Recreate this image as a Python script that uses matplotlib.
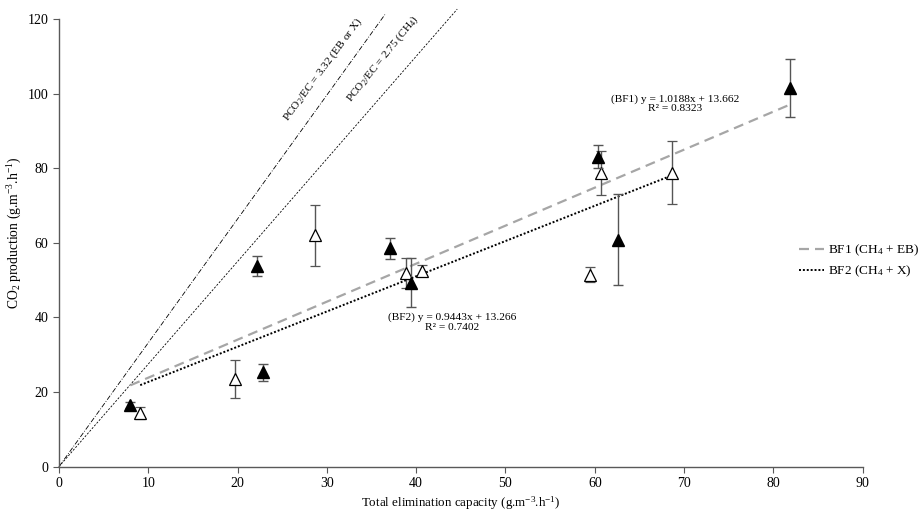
import matplotlib
matplotlib.use("Agg")
import matplotlib.pyplot as plt
import numpy as np

plt.rcParams['font.family'] = ['Liberation Serif', 'DejaVu Serif']
plt.rcParams['mathtext.fontset'] = 'custom'
plt.rcParams['mathtext.rm'] = 'Liberation Serif'
plt.rcParams['mathtext.it'] = 'Liberation Serif:italic'

# BF1 (CH4 + EB) - filled triangles
bf1_x = [8.0, 22.2, 22.8, 37.1, 39.4, 60.4, 62.6, 81.9]
bf1_y = [16.6, 53.8, 25.3, 58.5, 49.3, 83.1, 60.8, 101.4]
bf1_err = [0.8, 2.8, 2.3, 2.8, 6.5, 3.0, 12.2, 7.8]

# BF2 (CH4 + X) - open triangles
bf2_x = [9.1, 19.7, 28.7, 38.9, 40.7, 59.5, 60.7, 68.6]
bf2_y = [14.4, 23.5, 62.0, 52.0, 52.5, 51.4, 78.7, 78.8]
bf2_err = [1.6, 5.2, 8.2, 4.0, 1.5, 2.0, 6.0, 8.4]

# regression coefficients
bf1_slope, bf1_int = 1.0188, 13.662
bf2_slope, bf2_int = 0.9443, 13.266

# theoretical ratios
ratio_ebx = 3.32
ratio_ch4 = 2.75

fig = plt.figure(figsize=(9.21, 5.13), dpi=100)
ax = fig.add_axes([0.064, 0.0903, 0.8727, 0.8727])

ax.set_xlim(0, 90)
ax.set_ylim(0, 120)

# theoretical lines
xe1 = np.array([0, 36.5])
ax.plot(xe1, ratio_ebx * xe1, color='black', lw=0.6, ls='-.', dashes=(6, 2, 1, 2), clip_on=False)
xe2 = np.array([0, 44.6])
ax.plot(xe2, ratio_ch4 * xe2, color='black', lw=0.6, ls=(0, (2.5, 1.8)), clip_on=False)

# regression lines
x1 = np.array([min(bf1_x), max(bf1_x)])
ax.plot(x1, bf1_slope * x1 + bf1_int, color='#a6a6a6', lw=1.6, ls=(0, (4.5, 2.7)),
        label='BF1 (CH$_4$ + EB)')
x2 = np.array([min(bf2_x), max(bf2_x)])
ax.plot(x2, bf2_slope * x2 + bf2_int, color='black', lw=1.4, ls=(0, (1, 1)),
        label='BF2 (CH$_4$ + X)')

# data points
ax.errorbar(bf2_x, bf2_y, yerr=bf2_err, fmt='^', mfc='white', mec='black', mew=0.9,
            ms=9, ecolor='#555555', elinewidth=1.0, capsize=3.5, capthick=1.0, zorder=4)
ax.errorbar(bf1_x, bf1_y, yerr=bf1_err, fmt='^', mfc='black', mec='black',
            ms=9, ecolor='#555555', elinewidth=1.0, capsize=3.5, capthick=1.0, zorder=5)

# annotations
ax.text(69.0, 97.3, '(BF1) y = 1.0188x + 13.662\nR² = 0.8323', ha='center', va='center',
        fontsize=8.2, linespacing=1.1)
ax.text(44.0, 38.8, '(BF2) y = 0.9443x + 13.266\nR² = 0.7402', ha='center', va='center',
        fontsize=8.2, linespacing=1.1)
ax.text(29.6, 106.6, 'PCO$_2$/EC = 3.32 (EB or X)', rotation=53.5, ha='center', va='center',
        fontsize=8.2, rotation_mode='anchor')
ax.text(36.3, 109.3, 'PCO$_2$/EC = 2.75 (CH$_4$)', rotation=51, ha='center', va='center',
        fontsize=8.2, rotation_mode='anchor')

for s in ['top', 'right']:
    ax.spines[s].set_visible(False)
for s in ['left', 'bottom']:
    ax.spines[s].set_color('#595959')
    ax.spines[s].set_linewidth(1.0)
ax.tick_params(direction='out', length=4, color='#595959', labelsize=10)
ax.set_xticks(np.arange(0, 91, 10))
ax.set_yticks(np.arange(0, 121, 20))

ax.set_xlabel('Total elimination capacity (g.m$^{-3}$.h$^{-1}$)', fontsize=9.4, labelpad=3)
ax.set_ylabel('CO$_2$ production (g.m$^{-3}$.h$^{-1}$)', fontsize=9.8)
ax.yaxis.set_label_coords(-0.043, 0.522)

ax.legend(loc='center left', bbox_to_anchor=(0.867, 0.4912), bbox_transform=fig.transFigure,
          frameon=False, fontsize=9.5, handlelength=1.95, handletextpad=0.3, labelspacing=0.45,
          borderpad=0, borderaxespad=0)

fig.savefig('out.png', dpi=100)
